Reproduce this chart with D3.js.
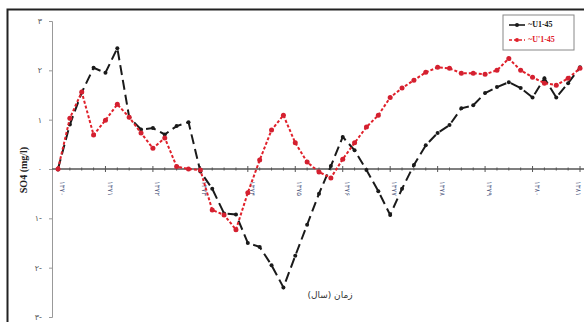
<!DOCTYPE html>
<html>
<head>
<meta charset="utf-8">
<script src="https://cdn.jsdelivr.net/npm/d3@7"></script>
<style>
  body { margin: 0; background: #fff; }
  svg { display: block; }
</style>
</head>
<body>
<svg width="584" height="322"></svg>
<script>
// quarterly SO4 anomalies, 45 readings
const seriesNames = ['U1-45', "U'1-45"];
const u145 = [0, 0.9, 1.55, 2.05, 1.95, 2.45, 1.05, 0.8, 0.83, 0.7, 0.87, 0.95,
  -0.05, -0.4, -0.9, -0.92, -1.5, -1.58, -1.95, -2.4, -1.76, -1.13, -0.5, 0.06,
  0.65, 0.38, -0.02, -0.45, -0.93, -0.4, 0.08, 0.48, 0.73, 0.89, 1.23, 1.29,
  1.54, 1.66, 1.76, 1.64, 1.45, 1.84, 1.45, 1.74, 2.06];
const u145b = [0, 1.03, 1.56, 0.69, 0.99, 1.31, 1.05, 0.73, 0.42, 0.63, 0.05, 0.0,
  -0.02, -0.83, -0.93, -1.23, -0.48, 0.18, 0.79, 1.09, 0.53, 0.14, -0.06, -0.18,
  0.2, 0.53, 0.85, 1.09, 1.45, 1.64, 1.8, 1.96, 2.06, 2.04, 1.94, 1.94,
  1.92, 2.0, 2.24, 2.0, 1.86, 1.74, 1.7, 1.84, 2.04];
const yearLabels = ['۱۳۷۰', '۱۳۷۱', '۱۳۷۲', '۱۳۷۳', '۱۳۷۴', '۱۳۷۵', '۱۳۷۶', '۱۳۷۷',
  '۱۳۷۸', '۱۳۷۹', '۱۳۸۰', '۱۳۸۱'];
const yTicks = [3, 2, 1, 0, -1, -2, -3];
const yTickLabels = ['۳', '۲', '۱', '۰', '۱-', '۲-', '۳-'];

const svg = d3.select('svg');

// frame
svg.append('rect')
  .attr('x', 7.5).attr('y', 9.5)
  .attr('width', 580).attr('height', 320)
  .attr('fill', 'none').attr('stroke', '#222').attr('stroke-width', 2);

const x = d3.scaleLinear().domain([0, u145.length - 1]).range([58, 580]);
const y = d3.scaleLinear().domain([-3, 3]).range([317, 21]);

// y axis
const yAxis = d3.axisLeft(y)
  .tickValues(yTicks)
  .tickSize(3)
  .tickFormat((d, i) => yTickLabels[i]);
const yAxisG = svg.append('g')
  .attr('transform', 'translate(52,0)')
  .call(yAxis);
yAxisG.select('.domain').attr('stroke', '#999');
yAxisG.selectAll('.tick line').attr('stroke', '#999');
yAxisG.selectAll('.tick text')
  .attr('x', -10)
  .attr('fill', '#555')
  .style('font-family', 'DejaVu Sans')
  .style('font-size', '8px');

// x axis through zero
const xAxisG = svg.append('g')
  .attr('transform', `translate(0,${y(0)})`);
xAxisG.append('line')
  .attr('x1', 52).attr('x2', 584)
  .attr('stroke', '#555').attr('stroke-width', 1.6);
xAxisG.selectAll('line.minor')
  .data(d3.range(u145.length))
  .enter().append('line')
  .attr('class', 'minor')
  .attr('x1', d => x(d)).attr('x2', d => x(d))
  .attr('y1', d => d % 4 === 0 ? -3 : -1.5)
  .attr('y2', d => d % 4 === 0 ? 3 : 1.5)
  .attr('stroke', '#555').attr('stroke-width', 1);
xAxisG.selectAll('text.year')
  .data(yearLabels)
  .enter().append('text')
  .attr('class', 'year')
  .attr('transform', (d, i) => `translate(${Math.min(x(i * 4) + 4, 578)},12) rotate(90)`)
  .attr('dominant-baseline', 'middle')
  .attr('fill', '#5a6488')
  .style('font-family', 'DejaVu Sans')
  .style('font-size', '7px')
  .text(d => d);

// lines
const line = d3.line()
  .x((d, i) => x(i))
  .y(d => y(d));

svg.append('path')
  .datum(u145)
  .attr('d', line)
  .attr('fill', 'none')
  .attr('stroke', '#1a1a1a')
  .attr('stroke-width', 2)
  .attr('stroke-dasharray', '10,5');
svg.selectAll('circle.black')
  .data(u145)
  .enter().append('circle')
  .attr('class', 'black')
  .attr('cx', (d, i) => x(i)).attr('cy', d => y(d))
  .attr('r', 2)
  .attr('fill', '#1a1a1a');

svg.append('path')
  .datum(u145b)
  .attr('d', line)
  .attr('fill', 'none')
  .attr('stroke', '#e0202a')
  .attr('stroke-width', 2)
  .attr('stroke-dasharray', '3,2');
svg.selectAll('circle.red')
  .data(u145b)
  .enter().append('circle')
  .attr('class', 'red')
  .attr('cx', (d, i) => x(i)).attr('cy', d => y(d))
  .attr('r', 2.5)
  .attr('fill', '#d42030');

// axis titles
svg.append('text')
  .attr('transform', 'translate(27,170) rotate(-90)')
  .attr('text-anchor', 'middle')
  .attr('fill', '#222')
  .style('font-family', 'Liberation Serif')
  .style('font-weight', 'bold')
  .style('font-size', '10px')
  .text('SO4 (mg/l)');

svg.append('text')
  .attr('x', 330).attr('y', 298)
  .attr('text-anchor', 'middle')
  .attr('fill', '#333')
  .style('font-family', 'DejaVu Sans')
  .style('font-size', '9px')
  .text('زمان (سال)');

// legend
const lg = svg.append('g').attr('transform', 'translate(503,15)');
lg.append('rect')
  .attr('width', 71).attr('height', 35)
  .attr('fill', '#fff').attr('stroke', '#888').attr('stroke-width', 1);
const legendColors = ['#1a1a1a', '#e0202a'];
const legendDash = ['none', '3,2'];
seriesNames.forEach((name, i) => {
  const yy = 10 + i * 15;
  lg.append('line')
    .attr('x1', 6).attr('x2', 22).attr('y1', yy).attr('y2', yy)
    .attr('stroke', legendColors[i]).attr('stroke-width', 1.6)
    .attr('stroke-dasharray', legendDash[i]);
  lg.append('circle')
    .attr('cx', 14).attr('cy', yy).attr('r', 2)
    .attr('fill', legendColors[i]);
  lg.append('text')
    .attr('x', 25).attr('y', yy)
    .attr('dominant-baseline', 'middle')
    .attr('fill', legendColors[i])
    .style('font-family', 'Liberation Serif')
    .style('font-weight', 'bold')
    .style('font-size', '8px')
    .text('~' + name);
});
</script>
</body>
</html>
